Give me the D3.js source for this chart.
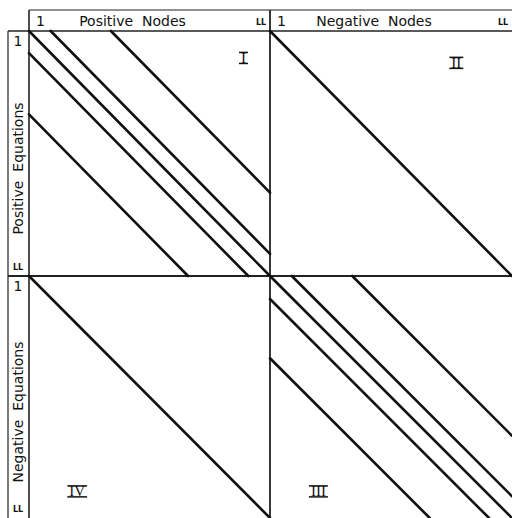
<!DOCTYPE html>
<html>
<head>
<meta charset="utf-8">
<script src="https://cdn.jsdelivr.net/npm/d3@7"></script>
<style>
  body { margin: 0; background: #fff; }
  svg { display: block; }
  text { font-family: "DejaVu Sans", sans-serif; fill: #111; }
</style>
</head>
<body>
<div id="chart"></div>
<script>
// matrix size (LL = last index)
const LL = 100;

// blocks of the matrix: which nodes / equations they use
const blockNames = ['I', 'II', 'III', 'IV'];
const blockNodes = ['pos', 'neg', 'neg', 'pos'];
const blockEqs = ['pos', 'pos', 'neg', 'neg'];

// diagonal bands in each block: offset = node index - equation index
const offsetsI = [0, 9, 34, -9, -34];
const offsetsII = [0];
const offsetsIII = [0, 9, 34, -9.5, -34];
const offsetsIV = [0];

// where the roman numeral sits inside each block (node, equation)
const labelNode = [89, 77, 20, 20];
const labelEq = [11, 13, 89, 89];

const headerNodes = ['Positive  Nodes', 'Negative  Nodes'];
const headerEqs = ['Positive  Equations', 'Negative  Equations'];

const width = 512, height = 518;
const svg = d3.select('#chart').append('svg')
    .attr('width', width)
    .attr('height', height);

const plotLeft = 29, plotTop = 31, midX = 270, midY = 276;

const xScales = {
    pos: d3.scaleLinear().domain([0, LL]).range([plotLeft, midX]),
    neg: d3.scaleLinear().domain([0, LL]).range([midX, 512])
};
const yScales = {
    pos: d3.scaleLinear().domain([0, LL]).range([plotTop, midY]),
    neg: d3.scaleLinear().domain([0, LL]).range([midY, 518])
};

// frame lines
const frame = svg.append('g')
    .attr('stroke', '#222')
    .attr('fill', 'none');

frame.append('line').attr('x1', plotLeft).attr('x2', width).attr('y1', 10).attr('y2', 10).attr('stroke-width', 1.2);
frame.append('line').attr('x1', 8).attr('x2', 8).attr('y1', plotTop).attr('y2', height).attr('stroke-width', 1.2);
frame.append('line').attr('x1', plotLeft).attr('x2', plotLeft).attr('y1', 10).attr('y2', height).attr('stroke-width', 1.6);
frame.append('line').attr('x1', 8).attr('x2', width).attr('y1', plotTop).attr('y2', plotTop).attr('stroke-width', 1.6);
frame.append('line').attr('x1', midX).attr('x2', midX).attr('y1', 10).attr('y2', height).attr('stroke-width', 1.8);
frame.append('line').attr('x1', 8).attr('x2', width).attr('y1', midY).attr('y2', midY).attr('stroke-width', 1.8);

// diagonal bands
const allOffsets = [offsetsI, offsetsII, offsetsIII, offsetsIV];
const bands = [];
blockNames.forEach((name, b) => {
    allOffsets[b].forEach(k => {
        bands.push({ block: b, k: k });
    });
});

svg.append('g')
    .selectAll('line')
    .data(bands)
    .enter()
    .append('line')
    .attr('x1', d => xScales[blockNodes[d.block]](Math.max(d.k, 0)))
    .attr('y1', d => yScales[blockEqs[d.block]](Math.max(-d.k, 0)))
    .attr('x2', d => xScales[blockNodes[d.block]](LL + Math.min(d.k, 0)))
    .attr('y2', d => yScales[blockEqs[d.block]](LL - Math.max(d.k, 0)))
    .attr('stroke', '#111')
    .attr('stroke-width', 2.6)
    .attr('stroke-linecap', 'round');

// roman numerals with bars above and below
const numerals = svg.append('g');
blockNames.forEach((name, b) => {
    const x = xScales[blockNodes[b]](labelNode[b]);
    const y = yScales[blockEqs[b]](labelEq[b]);
    const t = numerals.append('text')
        .attr('x', x)
        .attr('y', y)
        .attr('text-anchor', 'middle')
        .attr('dominant-baseline', 'central')
        .style('font-family', '"Liberation Serif", serif')
        .style('font-size', '15px')
        .text(name);
    const w = t.node().getComputedTextLength() + 4;
    numerals.append('line')
        .attr('x1', x - w / 2).attr('x2', x + w / 2)
        .attr('y1', y - 5.5).attr('y2', y - 5.5)
        .attr('stroke', '#111').attr('stroke-width', 1.5);
    numerals.append('line')
        .attr('x1', x - w / 2).attr('x2', x + w / 2)
        .attr('y1', y + 5.5).attr('y2', y + 5.5)
        .attr('stroke', '#111').attr('stroke-width', 1.5);
});

// header strips: top (nodes)
['pos', 'neg'].forEach((key, i) => {
    const sx = xScales[key];
    svg.append('text')
        .attr('x', sx(0) + 7)
        .attr('y', 26)
        .style('font-size', '14px')
        .text('1');
    svg.append('text')
        .attr('x', sx(LL / 2) - 17)
        .attr('y', 26)
        .attr('text-anchor', 'middle')
        .style('font-size', '14px')
        .style('white-space', 'pre')
        .text(headerNodes[i]);
    svg.append('text')
        .attr('x', sx(LL) - 9)
        .attr('y', 25)
        .attr('text-anchor', 'middle')
        .style('font-size', '8px')
        .style('font-weight', 'bold')
        .text('LL');
});

// header strips: left (equations)
['pos', 'neg'].forEach((key, i) => {
    const sy = yScales[key];
    svg.append('text')
        .attr('x', 18)
        .attr('y', sy(0) + 15)
        .attr('text-anchor', 'middle')
        .style('font-size', '14px')
        .text('1');
    svg.append('text')
        .attr('transform', `translate(23, ${sy(LL / 2) + 15}) rotate(-90)`)
        .attr('text-anchor', 'middle')
        .style('font-size', '14px')
        .style('white-space', 'pre')
        .text(headerEqs[i]);
    svg.append('text')
        .attr('x', 18)
        .attr('y', sy(LL) - 6)
        .attr('text-anchor', 'middle')
        .style('font-size', '8px')
        .style('font-weight', 'bold')
        .text('LL');
});
</script>
</body>
</html>
